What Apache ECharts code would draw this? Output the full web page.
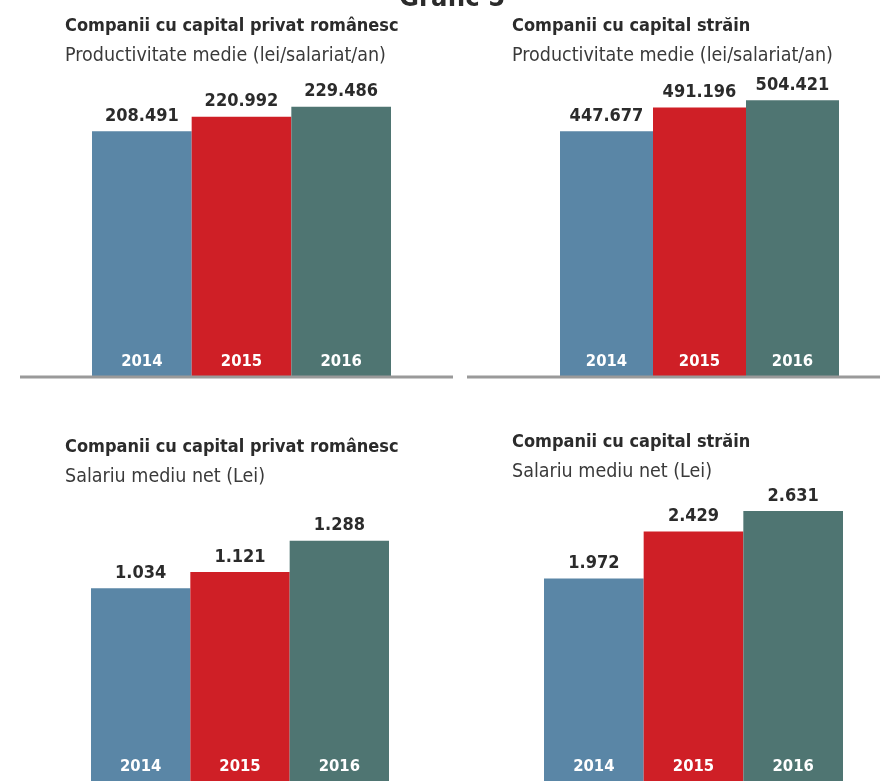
<!DOCTYPE html>
<html>
<head>
<meta charset="utf-8">
<script src="https://cdn.jsdelivr.net/npm/echarts@6/dist/echarts.min.js"></script>
<style>
  html, body { margin: 0; padding: 0; background: #fff; overflow: hidden; }
  #chart { width: 880px; height: 781px; }
</style>
</head>
<body>
<div id="chart"></div>
<script>
// date
const years = ["2014", "2015", "2016"];
const prodRo = [208491, 220992, 229486];
const prodStrain = [447677, 491196, 504421];
const salRo = [1034, 1121, 1288];
const salStrain = [1972, 2429, 2631];
const barColors = ["#5a86a6", "#cf1f26", "#4f7572"];

const FONT = "'DejaVu Sans Condensed', 'Roboto', sans-serif";
const dark = "#2b2b2b";

// format romanesc: punct ca separator de mii
const fmt = (v) => String(v).replace(/\B(?=(\d{3})+(?!\d))/g, ".");

const myChart = echarts.init(document.getElementById("chart"));

// un grid pentru fiecare panou
const grids = [
  { left: 92, width: 299, top: 24, height: 352 },
  { left: 560, width: 279, top: 48, height: 328 },
  { left: 91, width: 298, top: 408, height: 382 },
  { left: 544, width: 299, top: 473, height: 317 },
];
const maxes = [300000, 600000, 2000, 3000];
const datasets = [prodRo, prodStrain, salRo, salStrain];

const titles = [
  ["Companii cu capital privat românesc", "Productivitate medie (lei/salariat/an)", 65, 17],
  ["Companii cu capital străin", "Productivitate medie (lei/salariat/an)", 512, 17],
  ["Companii cu capital privat românesc", "Salariu mediu net (Lei)", 65, 438],
  ["Companii cu capital străin", "Salariu mediu net (Lei)", 512, 433],
];

const option = {
  animation: false,
  textStyle: { fontFamily: FONT },
  title: [
    {
      text: "Grafic 5",
      left: 394,
      top: -20,
      textStyle: { fontFamily: FONT, fontSize: 27, fontWeight: "bold", color: dark },
    },
    ...titles.map((t) => ({
      text: t[0],
      subtext: t[1],
      left: t[2],
      top: t[3],
      padding: 0,
      itemGap: 11,
      textStyle: { fontFamily: FONT, fontSize: 18, fontWeight: "bold", color: dark },
      subtextStyle: { fontFamily: FONT, fontSize: 19.5, color: "#3a3a3a" },
    })),
  ],
  grid: grids,
  xAxis: grids.map((g, i) => ({
    type: "category",
    gridIndex: i,
    data: years,
    z: 10,
    axisLine: { show: false },
    axisTick: { show: false },
    axisLabel: {
      inside: true,
      margin: 6,
      color: "#fff",
      fontWeight: "bold",
      fontSize: 16.5,
      fontFamily: FONT,
    },
  })),
  yAxis: grids.map((g, i) => ({
    type: "value",
    gridIndex: i,
    min: 0,
    max: maxes[i],
    show: false,
  })),
  series: datasets.map((d, i) => ({
    type: "bar",
    xAxisIndex: i,
    yAxisIndex: i,
    barCategoryGap: "0%",
    z: 1,
    data: d.map((v, k) => ({ value: v, itemStyle: { color: barColors[k] } })),
    label: {
      show: true,
      position: "top",
      distance: 6,
      formatter: (p) => fmt(p.value),
      fontFamily: FONT,
      fontSize: 18,
      fontWeight: "bold",
      color: dark,
    },
  })),
  // linia de baza din panourile de sus
  graphic: [
    { type: "line", shape: { x1: 20, y1: 377, x2: 453, y2: 377 }, style: { stroke: "#9a9a9a", lineWidth: 3 }, z: 10 },
    { type: "line", shape: { x1: 467, y1: 377, x2: 880, y2: 377 }, style: { stroke: "#9a9a9a", lineWidth: 3 }, z: 10 },
  ],
};

myChart.setOption(option);
</script>
</body>
</html>
